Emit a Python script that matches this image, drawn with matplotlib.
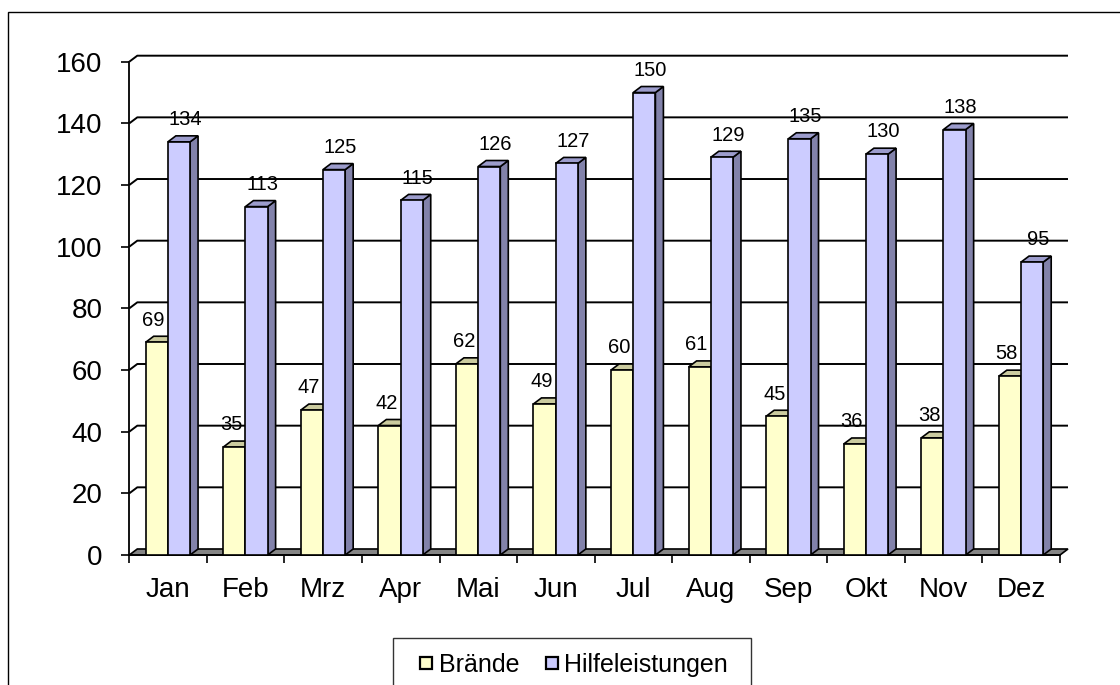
import matplotlib
matplotlib.use('Agg')
import matplotlib.pyplot as plt
from matplotlib.patches import Rectangle, Polygon
from matplotlib.lines import Line2D
import numpy as np

plt.rcParams['font.family'] = ['Liberation Sans', 'DejaVu Sans']

# Data (Einsätze pro Monat)
months = ['Jan', 'Feb', 'Mrz', 'Apr', 'Mai', 'Jun', 'Jul', 'Aug', 'Sep', 'Okt', 'Nov', 'Dez']
braende = [69, 35, 47, 42, 62, 49, 60, 61, 45, 36, 38, 58]
hilfe = [134, 113, 125, 115, 126, 127, 150, 129, 135, 130, 138, 95]
series_names = ['Brände', 'Hilfeleistungen']
y_ticks = [0, 20, 40, 60, 80, 100, 120, 140, 160]

# Colours (front, top, side)
yellow = ('#FFFFCC', '#CBCB9F', '#A8A880')
blue = ('#CCCCFF', '#9C9CCC', '#8282AA')
floor_col = '#858585'

W, H = 1120, 685
fig = plt.figure(figsize=(W / 100, H / 100), dpi=100)
ax = fig.add_axes([129.3 / W, 130 / H, 930.7 / W, 493.3 / H])
ax.set_xlim(0, 12)
ax.set_ylim(0, 160)

# 3D depth offset (data units)
dx = 0.103
dy = 1.95
bar_off = 0.2115
bar_w = 0.286
lw_edge = 1.2

# back wall gridlines with the small diagonal at the left
for y in y_ticks[1:]:
    ax.plot([0, dx, 12 + dx], [y, y + dy, y + dy], color='black', lw=1.4,
            zorder=1, clip_on=False, solid_capstyle='butt')

# floor
ax.add_patch(Polygon([(0, 0), (12, 0), (12 + dx, dy), (dx, dy)], closed=True,
                     facecolor=floor_col, edgecolor='black', lw=lw_edge,
                     zorder=2, clip_on=False))


def draw_bar(x0, v, cols, z):
    front, top, side = cols
    ax.add_patch(Polygon([(x0 + bar_w, 0), (x0 + bar_w + dx, dy),
                          (x0 + bar_w + dx, v + dy), (x0 + bar_w, v)],
                         closed=True, facecolor=side, edgecolor='black',
                         lw=lw_edge, zorder=z, clip_on=False))
    ax.add_patch(Polygon([(x0, v), (x0 + bar_w, v), (x0 + bar_w + dx, v + dy),
                          (x0 + dx, v + dy)], closed=True, facecolor=top,
                         edgecolor='black', lw=lw_edge, zorder=z, clip_on=False))
    ax.add_patch(Rectangle((x0, 0), bar_w, v, facecolor=front, edgecolor='black',
                           lw=lw_edge, zorder=z, clip_on=False))


for i in range(len(months)):
    x0 = i + bar_off
    draw_bar(x0, braende[i], yellow, 3)
    draw_bar(x0 + bar_w, hilfe[i], blue, 4)
    ax.annotate(str(braende[i]), (x0 + bar_w / 2, braende[i]),
                xytext=(-2.2, 16), textcoords='offset points',
                ha='center', va='center', fontsize=14.5, zorder=6)
    ax.annotate(str(hilfe[i]), (x0 + 1.5 * bar_w, hilfe[i]),
                xytext=(4.3, 16), textcoords='offset points',
                ha='center', va='center', fontsize=14.5, zorder=6)

# axes, ticks
for s in ['top', 'right']:
    ax.spines[s].set_visible(False)
ax.spines['left'].set_linewidth(1.3)
ax.spines['bottom'].set_linewidth(1.3)
ax.spines['left'].set_zorder(5)
ax.set_facecolor('none')

ax.set_yticks(y_ticks)
ax.tick_params(axis='y', length=5.8, width=1.2, pad=13.5, labelsize=20)
ax.set_xticks(np.arange(13))
ax.set_xticks(np.arange(12) + 0.5, minor=True)
ax.set_xticklabels(months, minor=True)
ax.tick_params(axis='x', which='major', length=5.8, width=1.2, labelbottom=False)
ax.tick_params(axis='x', which='minor', length=0, pad=16, labelsize=20)

# outer chart frame (cut off at right and bottom)
fig.add_artist(Rectangle((8 / W, -0.1), 1.0, (H - 12) / H + 0.1,
                         transform=fig.transFigure, fill=False,
                         edgecolor='black', lw=1.0))

# legend box (also cut off at the bottom)
fig.add_artist(Rectangle((393 / W, -0.1), (751 - 393) / W, (H - 638) / H + 0.1,
                         transform=fig.transFigure, fill=False,
                         edgecolor='#333333', lw=1.0))
handles = [Line2D([], [], marker='s', ls='none', markersize=9, mfc=c[0],
                  mec='black', mew=1.6) for c in (yellow, blue)]
fig.legend(handles, series_names, loc='center left',
           bbox_to_anchor=(419 / W, 1 - 665 / H), ncol=2, frameon=False,
           borderpad=0, borderaxespad=0, handlelength=0.56, handletextpad=0.24,
           columnspacing=1.0, fontsize=18)

fig.savefig('out.png', dpi=100)
